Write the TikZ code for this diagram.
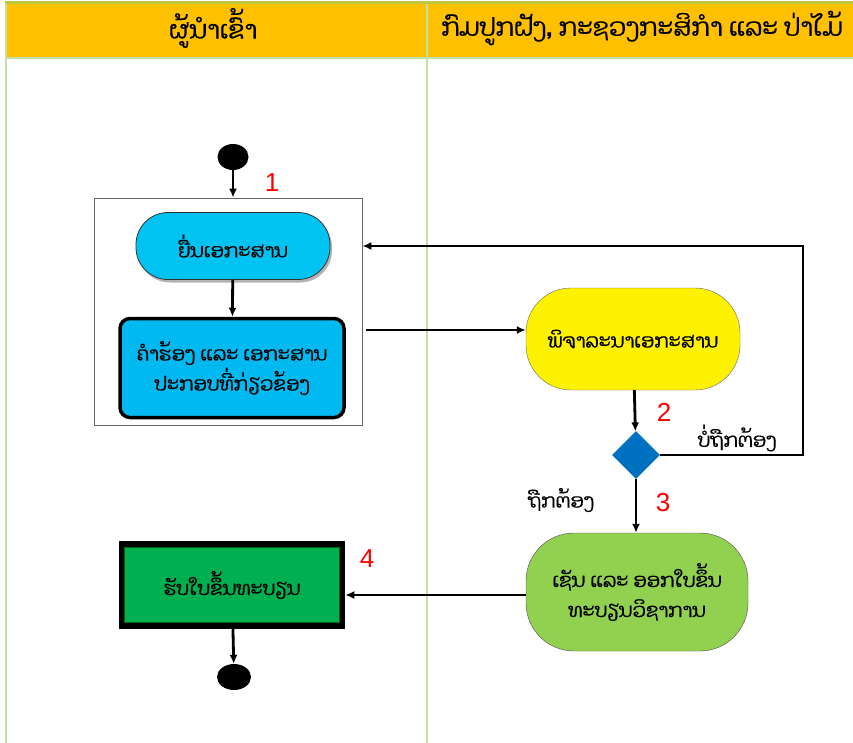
\documentclass[tikz,border=0pt]{standalone}
\usepackage{fontspec}
\setmainfont{Liberation Sans}
\newfontfamily\laofont[Script=Lao,FakeBold=0.6]{Dhyana}
\usetikzlibrary{arrows.meta,shapes.geometric,shadows}
\definecolor{HeadGold}{RGB}{255,192,0}
\definecolor{TopOlive}{RGB}{190,200,60}
\definecolor{LaneGreen}{RGB}{198,224,164}
\definecolor{SkyBlue}{RGB}{0,185,240}
\definecolor{DiaBlue}{RGB}{0,112,192}
\definecolor{LeafGreen}{RGB}{146,208,80}
\definecolor{DeepGreen}{RGB}{0,176,80}

\tikzset{
  flow/.style={line width=2.8pt, -{Latex[length=9pt,width=8pt]}},
  dot/.style={ellipse, fill=black, minimum width=31pt, minimum height=26pt, inner sep=0pt},
  laotext/.style={font=\laofont\fontsize{19.5}{30}\selectfont, align=center},
  lanehead/.style={font=\laofont\fontsize{25}{30}\selectfont},
  stepno/.style={text=red, font=\fontsize{26}{26}\selectfont},
}

\begin{document}
\begin{tikzpicture}[x=1pt,y=1pt,yscale=-1,xscale=1]
		\useasboundingbox (0,0) rectangle (853,743);

		% Swimlane header and borders
		\fill[HeadGold] (5,4) rectangle (853,57);
		\draw[TopOlive, line width=3pt] (5,2.5) -- (853,2.5);
		\draw[LaneGreen, line width=2.5pt] (5,58) -- (853,58);
		\draw[LaneGreen, line width=2.5pt] (6,4) -- (6,743);
		\draw[LaneGreen, line width=2.5pt] (427,4) -- (427,743);

		% Lane titles
		\node[lanehead] (lane1) at (213,28) {ຜູ້ນຳເຂົ້າ};
		\node[lanehead] (lane2) at (642,28) {ກົມປູກຝັງ, ກະຊວງກະສິກຳ ແລະ ປ່າໄມ້};

		% Left lane: start and submission group
		\node[dot] (start) at (233,157) {};
		\node[draw=black!60, line width=0.8pt, minimum width=268pt, minimum height=227pt] (grp) at (228,311.5) {};
		\node[laotext, draw=black!80, line width=0.8pt, fill=SkyBlue!85!cyan, rounded corners=32pt, minimum width=194pt, minimum height=67pt,
		      drop shadow={shadow xshift=2pt, shadow yshift=-3pt, opacity=0.6}] (sub) at (233,246) {ຍື່ນເອກະສານ};
		\node[laotext, draw=black, line width=3.5pt, fill=SkyBlue, rounded corners=10pt, minimum width=224pt, minimum height=99pt] (req) at (232,368) {ຄຳຮ້ອງ ແລະ ເອກະສານ\\ປະກອບທີ່ກ່ຽວຂ້ອງ};

		% Right lane: review, decision, approval
		\node[laotext, draw=black!60, fill=yellow, rounded corners=45pt, minimum width=214pt, minimum height=102pt] (check) at (633,339) {ພິຈາລະນາເອກະສານ};
		\node[diamond, aspect=1, fill=DiaBlue, minimum width=48pt, minimum height=48pt, inner sep=0pt] (dec) at (636,455) {};
		\node[laotext, draw=black!70, fill=LeafGreen, rounded corners=48pt, minimum width=222pt, minimum height=118pt] (sign) at (637,592) {ເຊັນ ແລະ ອອກໃບຂຶ້ນ\\ທະບຽນວິຊາການ};

		% Left lane: receive and end
		\node[laotext, draw=black, line width=5.5pt, fill=DeepGreen, minimum width=221pt, minimum height=82pt] (recv) at (232,585) {ຮັບໃບຂຶ້ນທະບຽນ};
		\draw[green!40!black, line width=0.6pt] ([shift={(6,6)}]recv.north west) rectangle ([shift={(-6,-6)}]recv.south east);
		\node[dot, minimum width=34pt] (stop) at (234,677) {};

		% Step numbers and branch labels
		\node[stepno] (s1) at (272,183) {1};
		\node[stepno] (s2) at (664,412) {2};
		\node[stepno] (s3) at (663,503) {3};
		\node[stepno] (s4) at (367,559) {4};
		\node[laotext] (nok) at (737,438) {ບໍ່ຖືກຕ້ອງ};
		\node[laotext] (ok) at (561,500) {ຖືກຕ້ອງ};

		% Connectors
		\coordinate (back) at (803,246);
		\draw[flow] (start) -- (grp.north -| start);
		\draw[flow] (sub) -- (req);
		\draw[flow] ([xshift=4pt,yshift=-9pt]check.west -| grp.east) -- ([yshift=-9pt]check.west);
		\draw[flow] (check) -- (dec);
		\draw[flow] (dec.east) -| (back) -- (grp.east |- back);
		\draw[flow] (dec) -- (sign.north -| dec);
		\draw[flow] ([yshift=3pt]sign.west) -- ([yshift=3pt]sign.west -| recv.east);
		\draw[flow] (recv) -- (stop);
	\end{tikzpicture}
\end{document}
